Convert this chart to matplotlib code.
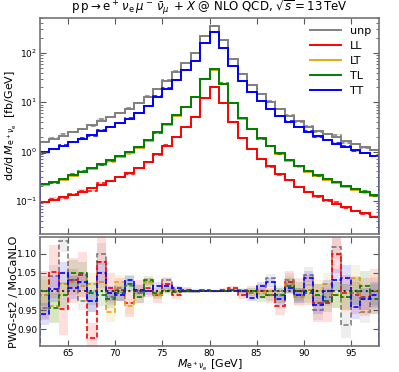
import numpy as np
import matplotlib
matplotlib.use("Agg")
import matplotlib.pyplot as plt

# bin edges: 1 GeV bins from 62 to 98 GeV
edges = np.arange(62, 99, 1)

# MoCaNLO distributions [fb/GeV]
unp = [1.60, 1.80, 2.05, 2.45, 2.90, 3.45, 4.15, 5.05, 6.1, 7.4, 9.6, 13.0,
       18.8, 27.5, 42, 63, 98, 224, 357, 183, 76, 37, 22.4, 14.5,
       10.3, 7.2, 5.3, 4.1, 3.2, 2.65, 2.28, 1.96, 1.64, 1.43, 1.26, 1.08]
LL = [0.096, 0.105, 0.12, 0.135, 0.155, 0.18, 0.21, 0.25, 0.30, 0.36, 0.46, 0.62,
      0.88, 1.32, 2.0, 3.1, 5.0, 12.0, 20, 9.8, 4.0, 1.9, 1.12, 0.72,
      0.50, 0.35, 0.26, 0.195, 0.15, 0.125, 0.105, 0.088, 0.074, 0.064, 0.056, 0.048]
LT = [0.213, 0.238, 0.272, 0.32, 0.378, 0.446, 0.534, 0.65, 0.776, 0.94, 1.21, 1.65,
      2.38, 3.5, 5.35, 7.95, 12.6, 29.1, 45.6, 23.3, 9.5, 4.65, 2.81, 1.79,
      1.28, 0.89, 0.66, 0.505, 0.39, 0.32, 0.272, 0.233, 0.194, 0.17, 0.15, 0.126]
TL = [0.22, 0.245, 0.28, 0.33, 0.39, 0.46, 0.55, 0.67, 0.80, 0.97, 1.25, 1.70,
      2.45, 3.6, 5.5, 8.2, 13.0, 30, 47, 24, 9.8, 4.8, 2.9, 1.85,
      1.32, 0.92, 0.68, 0.52, 0.40, 0.33, 0.28, 0.24, 0.20, 0.175, 0.155, 0.13]
TT = [1.00, 1.13, 1.29, 1.53, 1.80, 2.15, 2.60, 3.15, 3.8, 4.6, 6.0, 8.4,
      12.9, 19.0, 28.5, 45, 70, 160, 262, 128, 55, 27, 16.4, 10.5,
      7.2, 5.3, 4.05, 3.15, 2.5, 2.05, 1.72, 1.45, 1.23, 1.07, 0.95, 0.82]

# ratio PWG-st2 / MoCaNLO
r_unp = [0.957, 1.04, 1.135, 1.03, 0.975, 0.975, 1.10, 0.985, 1.01, 1.015, 0.995, 1.025,
         0.99, 1.03, 1.005, 1.005, 1.0, 1.0, 1.0, 1.002, 1.003, 1.005, 0.995, 1.0,
         1.035, 1.0, 1.03, 0.99, 1.045, 0.95, 0.985, 1.117, 0.91, 0.995, 0.945, 1.0]
r_LL = [0.99, 1.053, 0.953, 1.03, 1.045, 0.875, 1.078, 1.01, 1.005, 0.968, 1.0, 1.01,
        0.99, 1.02, 0.99, 1.005, 1.002, 1.003, 1.0, 1.004, 1.008, 0.99, 1.0, 1.0,
        0.99, 0.962, 1.025, 1.0, 1.005, 0.97, 0.97, 1.10, 0.995, 0.99, 0.985, 1.0]
r_LT = [0.99, 0.96, 1.02, 1.025, 1.015, 1.02, 1.025, 0.945, 1.025, 0.96, 1.005, 1.025,
        0.99, 1.005, 1.0, 1.0, 1.0, 1.0, 1.0, 1.0, 1.002, 1.0, 1.0, 0.995,
        1.0, 0.99, 1.02, 0.985, 1.005, 1.0, 1.02, 0.99, 0.985, 1.035, 0.98, 1.0]
r_TL = [1.0, 0.957, 0.99, 1.048, 1.048, 0.995, 0.99, 0.98, 0.995, 1.02, 0.985, 1.03,
        0.995, 1.0, 0.998, 1.0, 1.0, 1.0, 1.0, 1.002, 1.004, 1.0, 1.0, 0.985,
        0.99, 0.99, 1.015, 1.0, 0.995, 0.99, 0.975, 0.99, 0.985, 1.0, 1.015, 0.98]
r_TT = [0.94, 1.006, 1.049, 1.01, 1.025, 0.975, 1.05, 0.995, 0.99, 1.03, 1.005, 1.0,
        1.015, 1.015, 1.01, 1.0, 1.0, 1.0, 1.0, 1.0, 1.002, 1.0, 0.982, 1.015,
        1.025, 0.98, 1.01, 0.99, 1.035, 0.965, 1.0, 1.03, 1.035, 0.958, 0.98, 0.99]

# uncertainty band half-widths on the ratio
e_unp = [0.03, 0.03, 0.03, 0.03, 0.025, 0.03, 0.03, 0.02, 0.015, 0.015, 0.012, 0.01,
         0.01, 0.008, 0.005, 0.004, 0.003, 0.002, 0.002, 0.002, 0.003, 0.005, 0.008, 0.01,
         0.012, 0.015, 0.018, 0.02, 0.02, 0.025, 0.025, 0.03, 0.035, 0.03, 0.03, 0.035]
e_LL = [0.065, 0.07, 0.07, 0.06, 0.06, 0.04, 0.07, 0.04, 0.03, 0.035, 0.03, 0.025,
        0.02, 0.015, 0.01, 0.006, 0.004, 0.003, 0.003, 0.004, 0.006, 0.01, 0.015, 0.02,
        0.02, 0.025, 0.03, 0.035, 0.04, 0.05, 0.05, 0.05, 0.05, 0.05, 0.05, 0.06]
e_LT = [0.04, 0.04, 0.035, 0.035, 0.03, 0.03, 0.03, 0.025, 0.02, 0.02, 0.015, 0.012,
        0.01, 0.008, 0.006, 0.004, 0.003, 0.002, 0.002, 0.003, 0.004, 0.006, 0.01, 0.012,
        0.015, 0.02, 0.02, 0.025, 0.025, 0.03, 0.03, 0.035, 0.035, 0.035, 0.04, 0.04]
e_TL = [0.04, 0.04, 0.035, 0.035, 0.03, 0.03, 0.03, 0.025, 0.02, 0.02, 0.015, 0.012,
        0.01, 0.008, 0.006, 0.004, 0.003, 0.002, 0.002, 0.003, 0.004, 0.006, 0.01, 0.012,
        0.015, 0.02, 0.02, 0.025, 0.025, 0.03, 0.03, 0.035, 0.035, 0.035, 0.04, 0.04]
e_TT = [0.03, 0.035, 0.03, 0.03, 0.025, 0.03, 0.03, 0.02, 0.015, 0.015, 0.012, 0.01,
        0.01, 0.008, 0.005, 0.004, 0.003, 0.002, 0.002, 0.002, 0.003, 0.005, 0.008, 0.01,
        0.012, 0.015, 0.018, 0.02, 0.02, 0.025, 0.03, 0.03, 0.035, 0.03, 0.03, 0.035]

labels = ["unp", "LL", "LT", "TL", "TT"]
colors = ["#808080", "#ff0000", "#e6a817", "#008000", "#0000ff"]
series = [unp, LL, LT, TL, TT]
ratios = [r_unp, r_LL, r_LT, r_TL, r_TT]
errs = [e_unp, e_LL, e_LT, e_TL, e_TT]

fig = plt.figure(figsize=(3.99, 3.72), dpi=100)
ax = fig.add_axes([0.1003, 0.371, 0.8496, 0.5806])
axr = fig.add_axes([0.1003, 0.070, 0.8496, 0.293])

for vals, rat, err, c, lab in zip(series, ratios, errs, colors, labels):
    vals = np.array(vals)
    rat = np.array(rat)
    err = np.array(err)
    # top: band, MoCaNLO solid, PWG dashed
    ax.stairs(vals * (rat + err), edges, baseline=vals * (rat - err), fill=True,
              color=c, alpha=0.2, lw=0)
    ax.stairs(vals, edges, color=c, lw=1.4, label=lab)
    ax.stairs(vals * rat, edges, color=c, lw=1.1, ls=(0, (3, 2)))
    # ratio panel
    axr.stairs(rat + err, edges, baseline=rat - err, fill=True, color=c, alpha=0.13, lw=0)
    axr.stairs(rat, edges, color=c, lw=1.2, ls=(0, (3, 1.5)))

axr.axhline(1.0, color="0.2", ls=":", lw=1.5, zorder=1)

ax.set_yscale("log")
ax.set_xlim(62, 98)
ax.set_ylim(0.0214, 510)
axr.set_xlim(62, 98)
axr.set_ylim(0.855, 1.145)

ax.set_xticks(np.arange(65, 96, 5))
ax.set_xticklabels([])
axr.set_xticks(np.arange(65, 96, 5))
axr.set_yticks([0.90, 0.95, 1.00, 1.05, 1.10])
axr.set_yticklabels(["0.90", "0.95", "1.00", "1.05", "1.10"])

for a in (ax, axr):
    a.tick_params(direction="in", top=True, right=True, labelsize=6.5, length=4,
                  color="0.35", pad=2)
    a.tick_params(which="minor", direction="in", right=True, length=2, color="0.35")
    for s in a.spines.values():
        s.set_color("0.45")
        s.set_linewidth(1.2)

ax.set_ylabel(r"$\mathrm{d}\sigma/\mathrm{d}\,M_{\mathrm{e}^+\nu_\mathrm{e}}$  [fb/GeV]",
              fontsize=8)
axr.set_ylabel("PWG-st2 / MoCaNLO", fontsize=8)
ax.yaxis.set_label_coords(-0.062, 0.5)
axr.yaxis.set_label_coords(-0.062, 0.5)
axr.set_xlabel(r"$M_{\mathrm{e}^+\nu_\mathrm{e}}$ [GeV]", fontsize=8, labelpad=0)
ax.set_title(r"$\mathrm{p\,p}\to\mathrm{e}^+\,\nu_\mathrm{e}\,\mu^-\,\bar{\nu}_\mu\;+X$"
             r" @ NLO QCD, $\sqrt{s}=13\,\mathrm{TeV}$", fontsize=8.5, pad=3)

ax.legend(loc="upper right", frameon=False, fontsize=8, handlelength=2.8,
          labelspacing=0.45, borderaxespad=0.3)

fig.savefig("out.png", dpi=100)
